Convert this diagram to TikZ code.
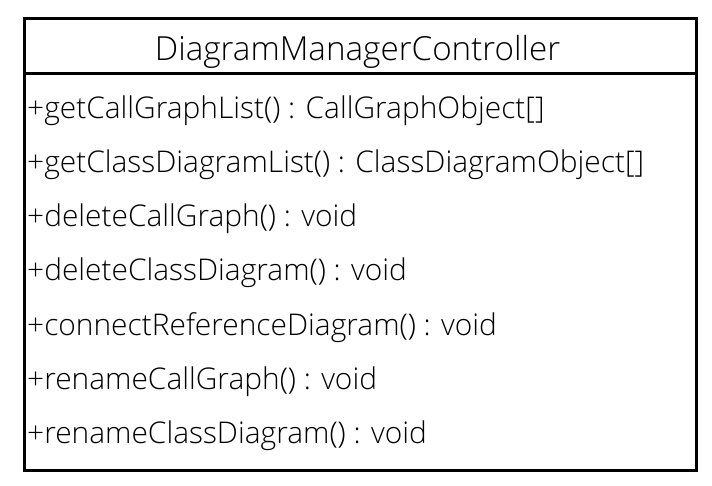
\documentclass[tikz,border=0pt]{standalone}
\usepackage{fontspec}
\setmainfont{Open Sans}[UprightFont=* Light]
\usetikzlibrary{positioning}
\tikzset{%
  every method/.style={anchor=base west,inner sep=0pt,font=\fontsize{30}{36}\selectfont},
  class title/.style={anchor=base,inner sep=0pt,font=\fontsize{33.3}{40}\selectfont},
}

\begin{document}
\begin{tikzpicture}[
            x=1bp,y=-1bp,
            frame/.style={
              draw,
              line width=3bp,
              },
            ]
            \useasboundingbox (0,0) rectangle (712,486);
            \draw[frame] (24,19) rectangle (696,470);
            \coordinate (divl) at (24,74);
            \coordinate (divr) at (696,74);
            \draw[frame] (divl) -- (divr);
            \node[class title] (title) at (357.5,61) {DiagramManagerController};
            \foreach \mi [count=\ai] in {+getCallGraphList() : CallGraphObject[],
                +getClassDiagramList() : ClassDiagramObject[],
                +deleteCallGraph() : void,
                +deleteClassDiagram() : void,
                +connectReferenceDiagram() : void,
                +renameCallGraph() : void,
                +renameClassDiagram() : void}
              \node[every method] (op-\ai) at (27,{119+54*(\ai-1)}) {\mi};
        \end{tikzpicture}
\end{document}
